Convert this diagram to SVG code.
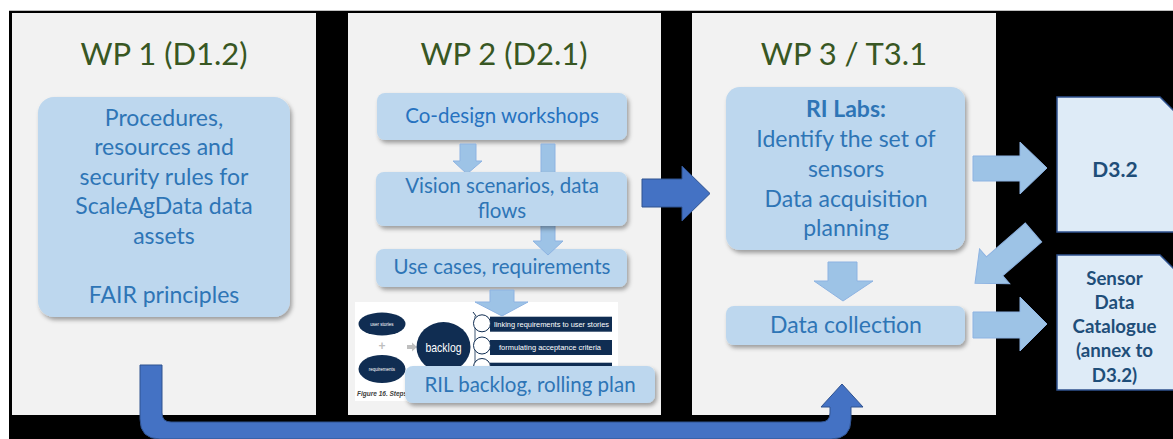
<svg xmlns="http://www.w3.org/2000/svg" width="1173" height="439" viewBox="0 0 1173 439">
<style>
.panel{fill:#f2f2f2}
.hdr{font-family:Lato,"Open Sans",sans-serif;font-size:31px;fill:#385723;text-anchor:middle}
.box{fill:#bdd7ee;filter:url(#sh)}
.t1{font-family:Lato,"Open Sans",sans-serif;font-size:23px;fill:#2e75b6;text-anchor:middle}
.t2{font-family:Lato,"Open Sans",sans-serif;font-size:20.5px;fill:#2e75b6;text-anchor:middle}
.b{font-weight:bold}
.la{fill:#9dc3e6;stroke:#8db3e2;stroke-width:1}
.da{fill:#4472c4;stroke:#2f528f;stroke-width:1}
.doc{fill:#deebf7;stroke:#2f528f;stroke-width:1.5}
.dt{font-family:Lato,"Open Sans",sans-serif;font-weight:bold;fill:#1f4e79;text-anchor:middle}
.navy{fill:#102d52}
.fig{font-family:"Liberation Sans",Arial,sans-serif;fill:#ffffff}
</style>
<defs>
<filter id="sh" x="-10%" y="-10%" width="125%" height="130%">
<feDropShadow dx="2" dy="3" stdDeviation="2" flood-color="#000" flood-opacity="0.35"/>
</filter>
</defs>
<rect x="0" y="0" width="1173" height="439" fill="#ffffff"/>
<rect x="9" y="11" width="1164" height="428" fill="#000000"/>
<line x1="9" y1="10.5" x2="1173" y2="10.5" stroke="#bfbfbf" stroke-width="1"/>

<g id="wp1">
<rect class="panel" x="12" y="13" width="304" height="402"/>
<text class="hdr" x="164" y="65">WP 1 (D1.2)</text>
<rect class="box" x="38" y="97" width="252" height="220" rx="16"/>
<text class="t1" x="164" y="126">Procedures,</text>
<text class="t1" x="164" y="155">resources and</text>
<text class="t1" x="164" y="185">security rules for</text>
<text class="t1" x="164" y="214">ScaleAgData data</text>
<text class="t1" x="164" y="244">assets</text>
<text class="t1" x="164" y="303">FAIR principles</text>
</g>

<g id="wp2">
<rect class="panel" x="348" y="13" width="313" height="402"/>
<text class="hdr" x="504" y="65">WP 2 (D2.1)</text>
<g id="codesign">
<rect class="box" x="377" y="93" width="250" height="47" rx="8"/>
<text class="t2" x="502" y="123" style="fill:#2672c0">Co-design workshops</text>
</g>
<g id="usecases">
<rect class="box" x="376" y="249" width="251" height="38" rx="8"/>
<text class="t2" x="502" y="274">Use cases, requirements</text>
</g>
<g id="figure">
<rect x="355" y="302" width="263" height="99" fill="#ffffff"/>
<ellipse class="navy" cx="382" cy="324" rx="23.5" ry="11.5"/>
<text class="fig" x="382" y="326" font-size="4.5" text-anchor="middle">user stories</text>
<text x="382" y="350" font-family="Liberation Sans,sans-serif" font-size="12" font-weight="bold" fill="#bfbfbf" text-anchor="middle">+</text>
<ellipse class="navy" cx="382" cy="369" rx="23.5" ry="14"/>
<text class="fig" x="382" y="371" font-size="4.5" text-anchor="middle">requirements</text>
<path d="M407,345 H412 V342.5 L417,347 L412,351.5 V349 H407 Z" fill="#bfbfbf"/>
<ellipse class="navy" cx="443.5" cy="347" rx="27" ry="25"/>
<text class="fig" x="443.5" y="351.5" font-size="13" text-anchor="middle" textLength="36" lengthAdjust="spacingAndGlyphs">backlog</text>
<line x1="473" y1="312" x2="476" y2="316" stroke="#102d52" stroke-width="1"/>
<line x1="475" y1="316" x2="475" y2="378" stroke="#102d52" stroke-width="0.8"/>
<rect class="navy" x="490" y="316.7" width="122" height="15"/>
<rect class="navy" x="490" y="340" width="122" height="15"/>
<rect class="navy" x="490" y="362.7" width="122" height="15"/>
<circle cx="482" cy="323.3" r="8.5" fill="#ffffff" stroke="#102d52" stroke-width="1"/>
<circle cx="482" cy="345.5" r="8.5" fill="#ffffff" stroke="#102d52" stroke-width="1"/>
<circle cx="482" cy="367" r="8.5" fill="#ffffff" stroke="#102d52" stroke-width="1"/>
<text class="fig" x="494" y="327" font-size="7" textLength="115" lengthAdjust="spacingAndGlyphs">linking requirements to user stories</text>
<text class="fig" x="499" y="350" font-size="7" textLength="102" lengthAdjust="spacingAndGlyphs">formulating acceptance criteria</text>
<text x="357" y="396" font-family="Liberation Sans,sans-serif" font-size="6.5" font-style="italic" font-weight="bold" fill="#404040">Figure 16. Steps</text>
</g>
<g id="wp2arrows">
<path class="la" d="M460,144 H476 V161 H482 L467,174 L453,161 H460 Z"/>
<path class="la" d="M541,144 H555 V241 H563 L548,255 L533,241 H541 Z"/>
<path class="la" d="M490,290 H514 V302 H528 L502,316 L475,302 H490 Z"/>
</g>
<g id="vision">
<rect class="box" x="376" y="172" width="251" height="54" rx="8"/>
<text class="t2" x="502" y="193">Vision scenarios, data</text>
<text class="t2" x="502" y="218">flows</text>
</g>
<g id="ril">
<rect class="box" x="405" y="366" width="250" height="37" rx="8"/>
<text class="t2" x="530" y="392">RIL backlog, rolling plan</text>
</g>
</g>

<g id="wp3">
<rect class="panel" x="692" y="13" width="304" height="402"/>
<text class="hdr" x="844" y="65">WP 3 / T3.1</text>
<g id="rilabs">
<rect class="box" x="726" y="87" width="239" height="163" rx="14"/>
<text class="t1 b" x="846" y="117">RI Labs:</text>
<text class="t1" x="846" y="147">Identify the set of</text>
<text class="t1" x="846" y="177">sensors</text>
<text class="t1" x="846" y="207">Data acquisition</text>
<text class="t1" x="846" y="236">planning</text>
</g>
<g id="datacollection">
<rect class="box" x="726" y="306" width="239" height="39" rx="8"/>
<text class="t1" x="846" y="333">Data collection</text>
</g>
</g>

<g id="d32">
<path class="doc" d="M1057,97 H1160 L1186,123 V232 H1057 Z"/>
<text class="dt" x="1115" y="177" font-size="21">D3.2</text>
</g>
<g id="catalogue">
<path class="doc" d="M1057,255 H1160 L1186,281 V390 H1057 Z"/>
<text class="dt" x="1114.5" y="285" font-size="18.7">Sensor</text>
<text class="dt" x="1114.5" y="309" font-size="18.7">Data</text>
<text class="dt" x="1114.5" y="333" font-size="18.7">Catalogue</text>
<text class="dt" x="1114.5" y="357" font-size="18.7">(annex to</text>
<text class="dt" x="1114.5" y="382" font-size="18.7">D3.2)</text>
</g>

<g id="connectors">
<path class="da" d="M642,179 H682 V166 L710,193.5 L682,221 V207 H642 Z"/>
<path class="la" d="M828,262 H857 V281 H873 L843,301 L814,281 H828 Z"/>
<path class="la" d="M973,156 H1020 V142 L1047,168 L1020,194 V181 H973 Z"/>
<path class="la" d="M973,312 H1020 V297 L1047,324 L1020,351 V338 H973 Z"/>
<path class="la" transform="translate(1033.5,232.5) rotate(139)" d="M0,-12.5 H51.5 V-23 L77.5,0 L51.5,23 V12.5 H0 Z"/>
<path class="da" d="M140,365 H162 V413 Q162,422 171,422 H821 Q830,422 830,413 V407 H821 L842,384 L863,407 H851 V419 Q851,439 831,439 H160 Q140,439 140,419 Z"/>
</g>
</svg>
